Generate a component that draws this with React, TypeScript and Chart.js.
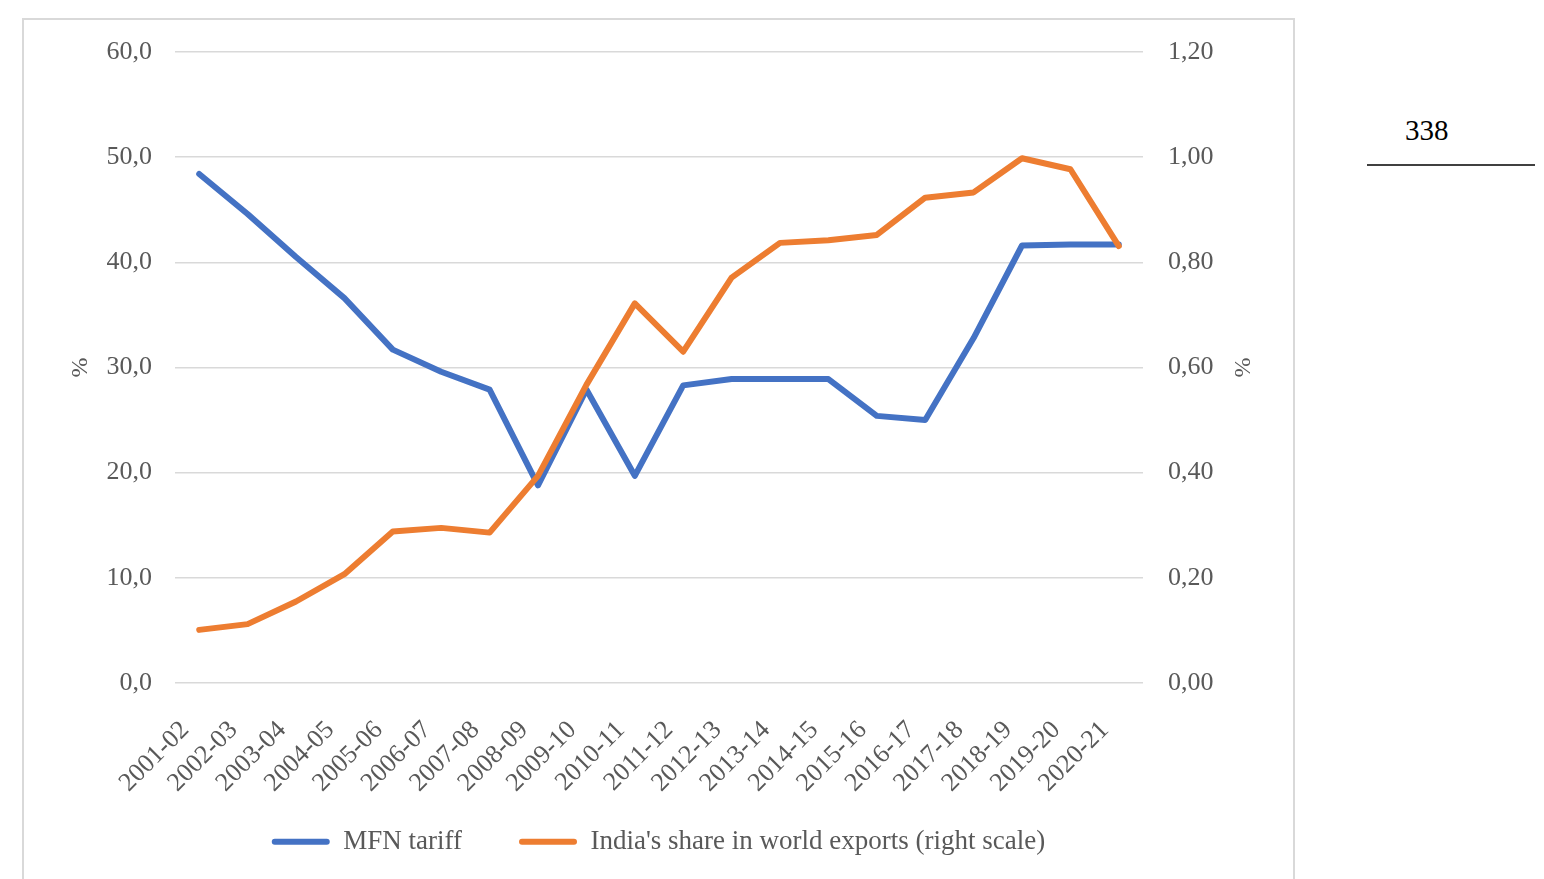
import React, { useEffect, useRef } from 'react';
import { Chart, registerables } from 'chart.js';

Chart.register(...registerables);

const years = [
  '2001-02', '2002-03', '2003-04', '2004-05', '2005-06', '2006-07', '2007-08',
  '2008-09', '2009-10', '2010-11', '2011-12', '2012-13', '2013-14', '2014-15',
  '2015-16', '2016-17', '2017-18', '2018-19', '2019-20', '2020-21',
];

// MFN tariff, % (left scale)
const mfnTariff = [
  48.4, 44.6, 40.5, 36.6, 31.7, 29.6, 27.9, 18.8, 27.9, 19.7,
  28.3, 28.9, 28.9, 28.9, 25.4, 25.0, 32.8, 41.6, 41.7, 41.7,
];

// India's share in world exports, % (right scale)
const indiaShare = [
  0.101, 0.112, 0.155, 0.207, 0.288, 0.295, 0.286, 0.394, 0.567, 0.722,
  0.630, 0.771, 0.837, 0.842, 0.852, 0.923, 0.933, 0.998, 0.977, 0.831,
];

const leftTicks = ['0,0', '10,0', '20,0', '30,0', '40,0', '50,0', '60,0'];
const rightTicks = ['0,00', '0,20', '0,40', '0,60', '0,80', '1,00', '1,20'];

const FONT = "'Liberation Serif', 'Times New Roman', serif";
const GREY = '#595959';
const BLUE = '#4472C4';
const ORANGE = '#ED7D31';
const NONE = 'rgba(0,0,0,0)';

const App: React.FC = () => {
  const canvasRef = useRef<HTMLCanvasElement>(null);

  useEffect(() => {
    if (!canvasRef.current) return;

    const chart = new Chart(canvasRef.current, {
      type: 'line',
      data: {
        labels: years,
        datasets: [
          {
            label: 'MFN tariff',
            data: mfnTariff,
            yAxisID: 'y',
            borderColor: BLUE,
            backgroundColor: BLUE,
            borderWidth: 6,
            pointRadius: 0,
            tension: 0,
            borderCapStyle: 'round',
            borderJoinStyle: 'round',
            order: 1,
          },
          {
            label: "India's share in world exports (right scale)",
            data: indiaShare,
            yAxisID: 'y1',
            borderColor: ORANGE,
            backgroundColor: ORANGE,
            borderWidth: 6,
            pointRadius: 0,
            tension: 0,
            borderCapStyle: 'round',
            borderJoinStyle: 'round',
            order: 0,
          },
        ],
      },
      options: {
        responsive: true,
        maintainAspectRatio: false,
        animation: false,
        layout: { padding: { top: 34, bottom: 13.8, left: 0, right: 0 } },
        plugins: {
          tooltip: { enabled: false },
          legend: {
            position: 'bottom',
            labels: {
              boxWidth: 58,
              boxHeight: 6,
              padding: 57,
              color: GREY,
              font: { family: FONT, size: 27 },
              useBorderRadius: true,
              borderRadius: 3,
              sort: (a, b) => (a.datasetIndex ?? 0) - (b.datasetIndex ?? 0),
              generateLabels: (c) =>
                Chart.defaults.plugins.legend.labels
                  .generateLabels(c)
                  .map((l) => ({ ...l, fillStyle: l.strokeStyle, lineWidth: 0 })),
            },
          },
        },
        scales: {
          x: {
            offset: true,
            grid: { display: false, drawTicks: false },
            border: { display: false },
            ticks: {
              color: GREY,
              font: { family: FONT, size: 26 },
              minRotation: 45,
              maxRotation: 45,
              autoSkip: false,
              padding: 32,
              labelOffset: -14,
            },
            afterFit: (s) => {
              s.height = 88.2;
              // let the rotated labels run below the shortened axis box
              (s as any)._computeLabelArea = () => undefined;
            },
          },
          y: {
            position: 'left',
            min: 0,
            max: 60,
            ticks: {
              stepSize: 10,
              padding: 0,
              color: GREY,
              font: { family: FONT, size: 26 },
              callback: (_v, i) => leftTicks[i],
            },
            grid: { color: '#d9d9d9', lineWidth: 1.5, drawTicks: true, tickLength: 23, tickColor: NONE },
            border: { display: false },
            title: {
              display: true,
              text: '%',
              color: GREY,
              font: { family: FONT, size: 24 },
              padding: { top: 44.6, bottom: 0 },
            },
            afterFit: (s) => {
              s.width = 153;
            },
          },
          y1: {
            position: 'right',
            min: 0,
            max: 1.2,
            ticks: {
              stepSize: 0.2,
              padding: 0,
              color: GREY,
              font: { family: FONT, size: 26 },
              callback: (_v, i) => rightTicks[i],
            },
            grid: { drawOnChartArea: false, drawTicks: true, tickLength: 25, tickColor: NONE },
            border: { display: false },
            title: {
              display: true,
              text: '%',
              color: GREY,
              font: { family: FONT, size: 24 },
              padding: { top: 39.6, bottom: 0 },
            },
            afterFit: (s) => {
              s.width = 152;
            },
          },
        },
      },
    });

    return () => {
      chart.destroy();
    };
  }, []);

  return (
    <div
      style={{
        position: 'absolute',
        left: 0,
        top: 0,
        width: 1544,
        height: 879,
        overflow: 'hidden',
        background: '#fff',
      }}
    >
      <div
        style={{
          position: 'absolute',
          left: 22,
          top: 18,
          width: 1269,
          height: 900,
          border: '2px solid #d9d9d9',
          borderBottom: 'none',
        }}
      />
      <div style={{ position: 'absolute', left: 22, top: 18, width: 1273, height: 861 }}>
        <canvas ref={canvasRef}></canvas>
      </div>
      <div
        style={{
          position: 'absolute',
          left: 1405,
          top: 114,
          fontFamily: FONT,
          fontSize: 29,
          color: '#000',
        }}
      >
        338
      </div>
      <div
        style={{
          position: 'absolute',
          left: 1367,
          top: 164,
          width: 168,
          height: 2,
          background: '#404040',
        }}
      />
    </div>
  );
};

export default App;
